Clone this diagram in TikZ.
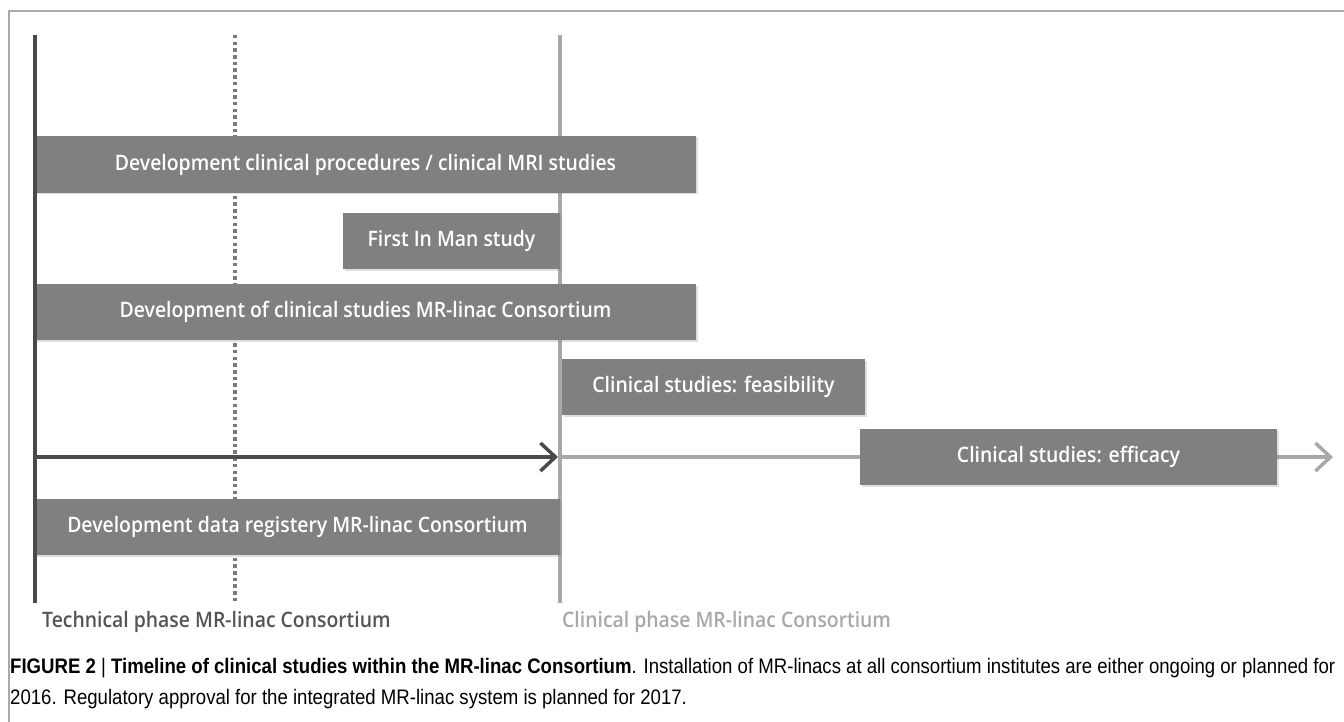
\documentclass[tikz,border=0pt]{standalone}
\usepackage{fontspec}
\usepackage{graphicx}
\usetikzlibrary{arrows.meta,shadows}
\IfFontExistsTF{OpenSans-SemiBold.ttf}{\newfontfamily\boxfont{OpenSans-SemiBold.ttf}[FakeStretch=0.91]}{%
 \IfFontExistsTF{OpenSans-Semibold.ttf}{\newfontfamily\boxfont{OpenSans-Semibold.ttf}[FakeStretch=0.91]}{%
  \IfFontExistsTF{OpenSans-Semibold.otf}{\newfontfamily\boxfont{OpenSans-Semibold.otf}[FakeStretch=0.91]}{%
   \newfontfamily\boxfont{Open Sans}[UprightFont={* Bold}, FakeStretch=0.87]}}}
\newfontfamily\capfont{Liberation Sans}
\definecolor{boxgray}{HTML}{808080}
\definecolor{darkline}{HTML}{4A4A4A}
\definecolor{midline}{HTML}{7A7A7A}
\definecolor{lightline}{HTML}{A8A8A8}
\definecolor{framegray}{HTML}{AAAAAA}
\definecolor{phasedark}{HTML}{555555}
\tikzset{
  bar/.style={fill=boxgray, draw=none, inner sep=0pt, outer sep=0pt, anchor=north west,
    text=white, font=\boxfont\fontsize{21.3}{24}\selectfont,
    drop shadow={shadow xshift=1.5pt, shadow yshift=-1.5pt, opacity=0.25}},
  phase/.style={anchor=west, inner sep=0pt, font=\boxfont\fontsize{21.3}{24}\selectfont},
  chev/.style={-{Straight Barb[length=15pt,width=28pt,line width=3.5pt]}},
}
\begin{document}
\begin{tikzpicture}[x=1pt,y=-1pt]
\useasboundingbox (0,0) rectangle (1344,722);
% frame
\coordinate (fTR) at (1344,11);
\coordinate (fTL) at (9,11);
\coordinate (fBL) at (9,722);
\draw[framegray, line width=1.5pt] (fTR) -- (fTL) -- (fBL);
% vertical lines
\coordinate (l1t) at (35,35);  \coordinate (l1b) at (35,603);
\coordinate (l2t) at (235,35); \coordinate (l2b) at (235,603);
\coordinate (l3t) at (560,35); \coordinate (l3b) at (560,603);
\draw[midline, line width=3.5pt, dash pattern=on 3.5pt off 3.2pt] (l2t) -- (l2b);
\draw[lightline, line width=3.5pt] (l3t) -- (l3b);
% arrows
\coordinate (a1s) at (35,457); \coordinate (a1e) at (558,457);
\coordinate (a2s) at (561,457); \coordinate (a2e) at (1333,457);
\draw[lightline, line width=3.5pt, chev] (a2s) -- (a2e);
\draw[darkline, line width=3.5pt, chev] (a1s) -- (a1e);
% bars
\node[bar, minimum width=661pt, minimum height=57pt] (b1) at (35,136) {\raisebox{-1.5pt}{Development clinical procedures / clinical MRI studies}};
\node[bar, minimum width=217pt, minimum height=56pt] (b2) at (343,213) {\raisebox{-1.5pt}{First In Man study}};
\node[bar, minimum width=661pt, minimum height=56pt] (b3) at (35,284) {\raisebox{-1.5pt}{Development of clinical studies MR-linac Consortium}};
\node[bar, minimum width=303pt, minimum height=56pt] (b4) at (562,359) {\raisebox{-1.5pt}{Clinical studies: feasibility}};
\node[bar, minimum width=417pt, minimum height=56pt] (b5) at (860,429) {\raisebox{-1.5pt}{Clinical studies: efficacy}};
\node[bar, minimum width=525pt, minimum height=56pt] (b6) at (35,499) {\raisebox{-1.5pt}{Development data registery MR-linac Consortium}};
\draw[darkline, line width=4.5pt] (l1t) -- (l1b);
% phase labels
\node[phase, text=phasedark] (p1) at (42,622) {Technical phase MR-linac Consortium};
\node[phase, text=lightline] (p2) at (562,622) {Clinical phase MR-linac Consortium};
% caption
\node[anchor=north west, inner sep=0pt] (cap) at (10,652) {\resizebox{1325pt}{\height}{\capfont\fontsize{21}{31}\selectfont
\begin{tabular}{@{}l@{}}
\textbf{FIGURE 2} | \textbf{Timeline of clinical studies within the MR-linac Consortium}. Installation of MR-linacs at all consortium institutes are either ongoing or planned for\\
2016. Regulatory approval for the integrated MR-linac system is planned for 2017.
\end{tabular}}};
\end{tikzpicture}
\end{document}
